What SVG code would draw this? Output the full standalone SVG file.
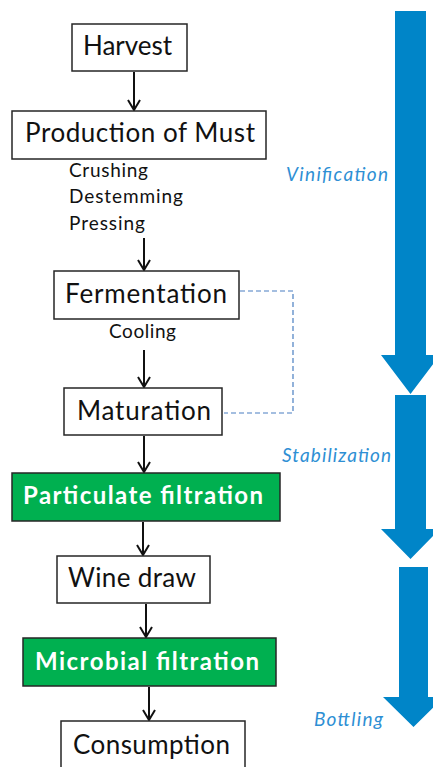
<svg xmlns="http://www.w3.org/2000/svg" width="433" height="767" viewBox="0 0 433 767">
<style>
.box{fill:#fff;stroke:#262626;stroke-width:1.5}
.gbox{fill:#00b050;stroke:#262626;stroke-width:1.5}
.lbl{font-family:Lato,"Open Sans","Liberation Sans",sans-serif;font-size:26px;fill:#111}
.glbl{font-family:Lato,"Open Sans","Liberation Sans",sans-serif;font-size:24px;font-weight:bold;fill:#fff}
.sub{font-family:Lato,"Open Sans","Liberation Sans",sans-serif;font-size:19px;fill:#111}
.phase{font-family:Lato,"Open Sans","Liberation Sans",sans-serif;font-size:19px;font-style:italic;fill:#2e8fd4}
.conn{stroke:#111;stroke-width:2;fill:none;marker-end:url(#ah)}
.dash{stroke:#4a7fc1;stroke-width:1.2;fill:none;stroke-dasharray:5,3}
.big{fill:#0085c8}
</style>
<defs>
<marker id="ah" viewBox="0 0 12 14" refX="11" refY="7" markerWidth="12" markerHeight="14" markerUnits="userSpaceOnUse" orient="auto">
<path d="M1,1 L11,7 L1,13" fill="none" stroke="#111" stroke-width="2"/>
</marker>
</defs>
<g id="phases">
<g id="vinification">
<polygon class="big" points="395,11 426,11 426,355 440,355 410.5,394 381,355 395,355"/>
<text class="phase" x="286" y="181" textLength="102">Vinification</text>
</g>
<g id="stabilization">
<polygon class="big" points="395,395 426,395 426,529 440,529 410.5,559 381,529 395,529"/>
<text class="phase" x="282" y="462" textLength="109">Stabilization</text>
</g>
<g id="bottling">
<polygon class="big" points="399,567 428,567 428,697 444,697 413.5,727 383,697 399,697"/>
<text class="phase" x="314" y="726" textLength="69">Bottling</text>
</g>
</g>
<g id="connectors">
<line class="conn" x1="134" y1="72" x2="134" y2="110"/>
<line class="conn" x1="144" y1="238" x2="144" y2="270"/>
<line class="conn" x1="144" y1="350" x2="144" y2="387"/>
<line class="conn" x1="144" y1="436" x2="144" y2="472"/>
<line class="conn" x1="143" y1="522" x2="143" y2="555"/>
<line class="conn" x1="146" y1="604" x2="146" y2="637"/>
<line class="conn" x1="149" y1="687" x2="149" y2="720"/>
<polyline class="dash" points="240,291 293,291 293,413 224,413"/>
</g>
<g id="harvest">
<rect class="box" x="72" y="24" width="115" height="47"/>
<text class="lbl" x="83" y="55" textLength="89">Harvest</text>
</g>
<g id="production">
<rect class="box" x="12" y="111" width="254" height="48"/>
<text class="lbl" x="25" y="142" textLength="230">Production of Must</text>
<text class="sub" x="69" y="177" textLength="79">Crushing</text>
<text class="sub" x="69" y="203" textLength="114">Destemming</text>
<text class="sub" x="69" y="230" textLength="76">Pressing</text>
</g>
<g id="fermentation">
<rect class="box" x="54" y="271" width="185" height="48"/>
<text class="lbl" x="65" y="303" textLength="162">Fermentation</text>
<text class="sub" x="109" y="338" textLength="67">Cooling</text>
</g>
<g id="maturation">
<rect class="box" x="64" y="388" width="158" height="47"/>
<text class="lbl" x="77" y="420" textLength="134">Maturation</text>
</g>
<g id="particulate">
<rect class="gbox" x="12" y="473" width="268" height="48"/>
<text class="glbl" x="23" y="504" textLength="240">Particulate filtration</text>
</g>
<g id="winedraw">
<rect class="box" x="57" y="556" width="153" height="47"/>
<text class="lbl" x="68" y="587" textLength="128">Wine draw</text>
</g>
<g id="microbial">
<rect class="gbox" x="23" y="638" width="253" height="48"/>
<text class="glbl" x="35" y="670" textLength="224">Microbial filtration</text>
</g>
<g id="consumption">
<rect class="box" x="61" y="721" width="184" height="60"/>
<text class="lbl" x="73" y="754" textLength="157">Consumption</text>
</g>
</svg>
